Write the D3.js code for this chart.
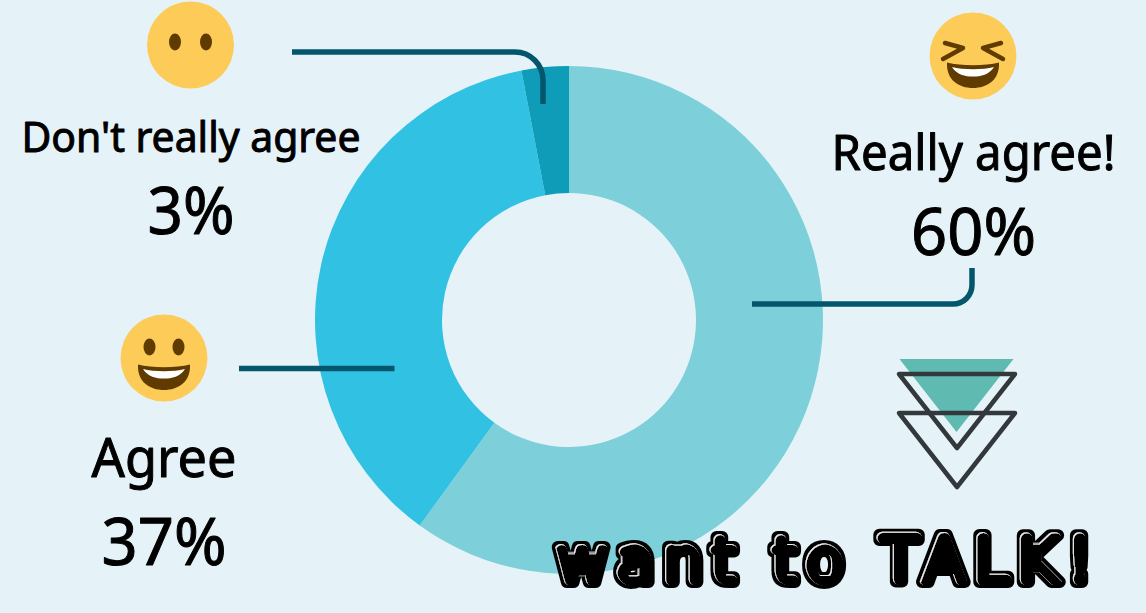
<!DOCTYPE html>
<html>
<head>
<meta charset="utf-8">
<script src="https://cdn.jsdelivr.net/npm/d3@7"></script>
<style>
html,body{margin:0;padding:0;background:#e5f3f8;overflow:hidden}
svg{display:block}
text{font-family:"Noto Sans",sans-serif;fill:#000}
</style>
</head>
<body>
<svg id="chart" width="1146" height="613"></svg>
<script>
// Survey answers, clockwise from twelve o'clock
const categories = ["Really agree!", "Agree", "Don't really agree"];
const shares = [60, 37, 3];
const sliceColors = ["#7dd0d9", "#31c1e3", "#0e9cb8"];

const svg = d3.select("#chart");
const cx = 569, cy = 320, outerR = 254, innerR = 127;

// Donut
const pie = d3.pie().sort(null).value(d => d);
const arc = d3.arc().innerRadius(innerR).outerRadius(outerR);
svg.append("g").attr("transform", `translate(${cx},${cy})`)
  .selectAll("path").data(pie(shares)).join("path")
  .attr("d", arc).attr("fill", (d, i) => sliceColors[i]);

// Leader lines
const leaderColor = "#03566b";
const leaders = [
  "M752,304H953a19,19 0 0 0 19,-19V268",
  "M239,368.500H394.500",
  "M292,52H515a28,28 0 0 1 28,28V104"
];
svg.append("g").selectAll("path").data(leaders).join("path")
  .attr("d", d => d).attr("fill", "none")
  .attr("stroke", leaderColor).attr("stroke-width", 5.500);

// Category and percentage labels, thickened slightly with a round outline
const labelLayout = [
  {x: 973.5, nameY: 170, nameSize: 50, nameLen: 284, pctY: 255, pctLen: 125},
  {x: 164, nameY: 477, nameSize: 54, nameLen: 145, pctY: 565, pctLen: 125},
  {x: 191, nameY: 152, nameSize: 42, nameLen: 339, pctY: 234, pctLen: 87}
];
const labels = svg.append("g")
  .attr("stroke", "#000").attr("stroke-width", 1).attr("stroke-linejoin", "round");
categories.forEach((name, i) => {
  const p = labelLayout[i];
  labels.append("text").text(name)
    .attr("x", p.x).attr("y", p.nameY).attr("text-anchor", "middle")
    .attr("font-size", p.nameSize).attr("textLength", p.nameLen)
    .attr("lengthAdjust", "spacingAndGlyphs");
  labels.append("text").text(shares[i] + "%")
    .attr("x", p.x).attr("y", p.pctY).attr("text-anchor", "middle")
    .attr("font-size", 66).attr("textLength", p.pctLen)
    .attr("lengthAdjust", "spacingAndGlyphs");
});

// Smiley faces
const skin = "#fdcb58", ink = "#603b00";
function face(x, y) {
  const g = svg.append("g").attr("transform", `translate(${x},${y})`);
  g.append("circle").attr("r", 43.5).attr("fill", skin);
  return g;
}
function grin(g) {
  g.append("path").attr("d", "M-26,6.500C-12,10 12,10 26,6.500C27,24 14,32 0,32C-14,32 -27,24 -26,6.500Z").attr("fill", ink);
  g.append("path").attr("d", "M-21,11C-10,14 10,14 21,11C16,19 8,20.500 0,20.500C-8,20.500 -16,19 -21,11Z").attr("fill", "#fff");
}
const laughing = face(973, 56);
grin(laughing);
laughing.append("path")
  .attr("d", "M-28,-13L-10,-8L-30,3M28,-13L10,-8L30,3")
  .attr("fill", "none").attr("stroke", ink).attr("stroke-width", 4.500)
  .attr("stroke-linecap", "round").attr("stroke-linejoin", "round");

const smiling = face(164, 358);
grin(smiling);
[-14.500, 14.500].forEach(dx => smiling.append("ellipse")
  .attr("cx", dx).attr("cy", -11).attr("rx", 6).attr("ry", 8.500).attr("fill", ink));

const blank = face(190.500, 45);
[-15.500, 15.500].forEach(dx => blank.append("ellipse")
  .attr("cx", dx).attr("cy", -3).attr("rx", 6).attr("ry", 8.500).attr("fill", ink));

// Stacked triangles pointing downwards
svg.append("path").attr("d", "M899.500,359H1013.500L956.500,432Z").attr("fill", "#5fbab2");
svg.append("g").selectAll("path")
  .data(["M899,374H1015L957,448Z", "M899,413H1015L957,487Z"]).join("path")
  .attr("d", d => d).attr("fill", "none").attr("stroke", "#33383c")
  .attr("stroke-width", 4.500).attr("stroke-linejoin", "round");

// Glossy rim on the headline: a thin crescent inside the top of each stroke
const defs = svg.append("defs");
const gloss = defs.append("filter").attr("id", "gloss")
  .attr("x", "-5%").attr("y", "-15%").attr("width", "110%").attr("height", "130%");
gloss.append("feMorphology").attr("in", "SourceAlpha").attr("operator", "erode").attr("radius", 2.5).attr("result", "core");
gloss.append("feOffset").attr("in", "core").attr("dx", 0.5).attr("dy", 1).attr("result", "shifted");
gloss.append("feComposite").attr("in", "core").attr("in2", "shifted").attr("operator", "out").attr("result", "rim");
gloss.append("feFlood").attr("flood-color", "#ffffff").attr("flood-opacity", 0.85).attr("result", "white");
gloss.append("feComposite").attr("in", "white").attr("in2", "rim").attr("operator", "in").attr("result", "shine");
const merge = gloss.append("feMerge");
merge.append("feMergeNode").attr("in", "SourceGraphic");
merge.append("feMergeNode").attr("in", "shine");

svg.append("text").text("want to TALK!")
  .attr("x", 555).attr("y", 582)
  .attr("textLength", 537).attr("lengthAdjust", "spacing")
  .style("font-family", "'DejaVu Sans', sans-serif").style("font-weight", 400)
  .attr("font-size", 64)
  .attr("stroke", "#000").attr("stroke-width", 12).attr("stroke-linejoin", "round").attr("stroke-linecap", "round")
  .attr("filter", "url(#gloss)");
</script>
</body>
</html>
